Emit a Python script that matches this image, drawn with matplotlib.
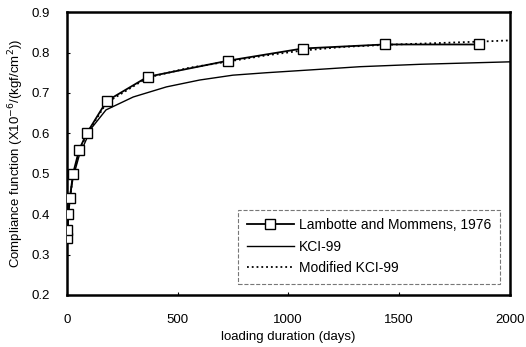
import numpy as np
import matplotlib
matplotlib.use('Agg')
import matplotlib.pyplot as plt

plt.rcParams['font.family'] = ['Liberation Sans', 'DejaVu Sans']

# measured compliance (Lambotte and Mommens, 1976)
days_meas = [1, 3, 7, 14, 28, 56, 90, 180, 365, 730, 1065, 1435, 1860]
j_meas = [0.34, 0.36, 0.40, 0.44, 0.50, 0.56, 0.60, 0.68, 0.74, 0.78, 0.81, 0.82, 0.82]

# KCI-99 model
days_kci = [0.5, 1, 3, 7, 14, 28, 56, 110, 177, 300, 450, 600, 750, 900, 1100, 1325, 1600, 2000]
j_kci = [0.30, 0.32, 0.36, 0.40, 0.44, 0.49, 0.545, 0.612, 0.658, 0.690, 0.715, 0.732,
         0.744, 0.750, 0.757, 0.765, 0.771, 0.777]

# modified KCI-99 model
days_mod = [0.5, 1, 3, 7, 14, 28, 56, 90, 180, 365, 550, 730, 900, 1065, 1250, 1435, 1650, 1860, 2000]
j_mod = [0.30, 0.33, 0.36, 0.40, 0.44, 0.495, 0.555, 0.598, 0.676, 0.738, 0.762, 0.778,
         0.793, 0.805, 0.814, 0.819, 0.823, 0.827, 0.830]

fig = plt.figure(figsize=(5.26, 3.47), dpi=100)
ax = fig.add_axes([0.127, 0.150, 0.842, 0.815])

ax.plot(days_meas, j_meas, '-', color='black', lw=1.3, marker='s', ms=6.5,
        mfc='white', mec='black', mew=1.0, label='Lambotte and Mommens, 1976', zorder=4)
ax.plot(days_kci, j_kci, '-', color='black', lw=1.0, label='KCI-99', zorder=3)
ax.plot(days_mod, j_mod, ':', color='black', lw=1.3, label='Modified KCI-99', zorder=3)

ax.set_xlim(0, 2000)
ax.set_ylim(0.2, 0.9)
ax.set_xticks([0, 500, 1000, 1500, 2000])
ax.set_yticks(np.arange(0.2, 0.91, 0.1))
ax.set_yticklabels(['0.2', '0.3', '0.4', '0.5', '0.6', '0.7', '0.8', '0.9'])
ax.tick_params(direction='in', length=2, width=0.8, labelsize=9.5)
ax.tick_params(axis='x', pad=14)
ax.tick_params(axis='y', pad=12)
for s in ax.spines.values():
    s.set_linewidth(1.8)

ax.set_xlabel('loading duration (days)', fontsize=9.5, labelpad=3)
ax.set_ylabel('Compliance function (X10$^{-6}$/(kgf/cm$^{2}$))', fontsize=9.5, labelpad=4)

leg = ax.legend(loc='lower right', bbox_to_anchor=(0.978, 0.04), fontsize=10,
                frameon=True, fancybox=False, handlelength=3.4, borderpad=0.6,
                labelspacing=0.55, handletextpad=0.4, borderaxespad=0)
leg.get_frame().set_edgecolor('#555555')
leg.get_frame().set_linewidth(0.8)
leg.get_frame().set_linestyle('--')

fig.savefig('out.png', dpi=100)
